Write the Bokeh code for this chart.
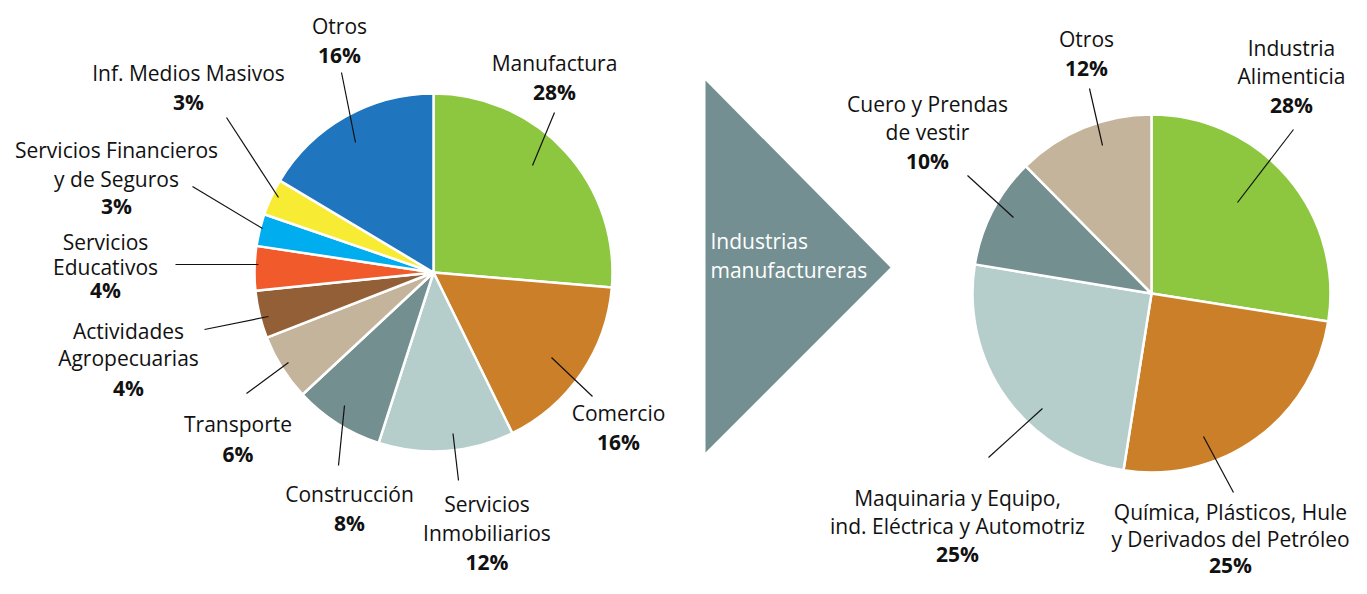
import math
from bokeh.plotting import figure
from bokeh.models import ColumnDataSource, Range1d
from bokeh.core.properties import value
from bokeh.embed import file_html
from bokeh.resources import INLINE

# ---------------- data ----------------
left_categories = ["Manufactura", "Comercio", "Servicios Inmobiliarios", "Construcción",
                   "Transporte", "Actividades Agropecuarias", "Servicios Educativos",
                   "Servicios Financieros y de Seguros", "Inf. Medios Masivos", "Otros"]
left_values = [26.3, 16.4, 12.2, 8.1, 6.0, 4.3, 4.0, 2.9, 3.3, 16.4]
left_pct_labels = ["28%", "16%", "12%", "8%", "6%", "4%", "4%", "3%", "3%", "16%"]
left_label_lines = [["Manufactura"], ["Comercio"], ["Servicios", "Inmobiliarios"],
                    ["Construcción"], ["Transporte"], ["Actividades", "Agropecuarias"],
                    ["Servicios", "Educativos"], ["Servicios Financieros", "y de Seguros"],
                    ["Inf. Medios Masivos"], ["Otros"]]

right_categories = ["Industria Alimenticia",
                    "Química, Plásticos, Hule y Derivados del Petróleo",
                    "Maquinaria y Equipo, ind. Eléctrica y Automotriz",
                    "Cuero y Prendas de vestir", "Otros"]
right_values = [27.5, 25.0, 25.1, 10.0, 12.4]
right_pct_labels = ["28%", "25%", "25%", "10%", "12%"]
right_label_lines = [["Industria", "Alimenticia"],
                     ["Química, Plásticos, Hule", "y Derivados del Petróleo"],
                     ["Maquinaria y Equipo,", "ind. Eléctrica y Automotriz"],
                     ["Cuero y Prendas", "de vestir"], ["Otros"]]

arrow_label = ["Industrias", "manufactureras"]

# ---------------- styles / layout ----------------
left_colors = ["#8DC63F", "#CC7F29", "#B5CDCB", "#738F90", "#C4B49B",
               "#925F37", "#F15A2B", "#00AEEF", "#F7EB33", "#1F75BE"]
right_colors = ["#8DC63F", "#CC7F29", "#B5CDCB", "#738F90", "#C4B49B"]

W, H = 1351, 578
OX, OY = 0, 0
FONT = "Open Sans"
FS = "21px"
TXT = "#111111"


def X(rx):
    return rx - OX


def Y(ry):
    return H - (ry - OY)


# label layout (x centre, y of each text line, y of percentage) in picture pixels
left_label_pos = [
    (554, [62], 91),
    (618, [412], 441.5),
    (486.5, [503, 532], 561),
    (349, [493], 522),
    (237.5, [423.5], 453),
    (128, [330, 357.5], 387),
    (105, [241, 266], 289),
    (116, [149, 178], 205),
    (188, [72], 101),
    (339, [25], 54),
]
left_leaders = [
    ((554, 112), (532, 165)),
    ((551, 357), (592, 396)),
    ((452.5, 433), (458, 480)),
    ((344, 405), (338, 465)),
    ((288, 362), (246, 393)),
    ((268, 316), (204, 329)),
    ((258, 264), (175, 264)),
    ((262, 228), (192, 186)),
    ((278, 197), (226, 117)),
    ((355, 142), (341, 72)),
]
right_label_pos = [
    (1291, [47, 75.5], 104),
    (1230, [511, 538], 564),
    (957, [497, 525], 553),
    (927, [103, 131.5], 160),
    (1086, [38.5], 67.5),
]
right_leaders = [
    ((1237, 202), (1293, 129)),
    ((1203, 436), (1233, 492)),
    ((1042, 408), (988, 457)),
    ((1013, 217), (967, 175)),
    ((1102, 145), (1089, 88)),
]

p = figure(width=W, height=H, x_range=Range1d(0, W), y_range=Range1d(0, H),
           x_axis_location=None, y_axis_location=None, min_border=0,
           toolbar_location=None, output_backend="svg")
p.grid.visible = False
p.outline_line_color = None
p.background_fill_color = "white"
p.border_fill_color = "white"


def pie(cx, cy, r, values, colors, names):
    total = float(sum(values))
    starts, ends = [], []
    acc = 0.0
    for v in values:
        a0 = acc / total * 2 * math.pi
        acc += v
        a1 = acc / total * 2 * math.pi
        starts.append(math.pi / 2 - a0)
        ends.append(math.pi / 2 - a1)
    src = ColumnDataSource(dict(start=starts, end=ends, color=colors, name=names,
                                x=[X(cx)] * len(values), y=[Y(cy)] * len(values)))
    p.wedge(x="x", y="y", radius=r, start_angle="start", end_angle="end",
            direction="clock", fill_color="color", line_color="white",
            line_width=2.5, source=src)


pie(433, 272, 179, left_values, left_colors, left_categories)
pie(1151, 293, 179, right_values, right_colors, right_categories)

# arrow triangle
p.patch(x=[X(705), X(705), X(890)], y=[Y(80), Y(452), Y(267)],
        fill_color="#738F91", line_color=None)
p.text(x=[X(710), X(710)], y=[Y(240), Y(269)], text=arrow_label,
       text_font=value(FONT), text_font_size=FS, text_color="white",
       text_align="left", text_baseline="middle")

# labels
tx, ty, tt = [], [], []
px, py, pt = [], [], []
for lines, pos, pct in list(zip(left_label_lines, left_label_pos, left_pct_labels)) + \
        list(zip(right_label_lines, right_label_pos, right_pct_labels)):
    cx, ys, pyy = pos
    for line, yy in zip(lines, ys):
        tx.append(X(cx)); ty.append(Y(yy)); tt.append(line)
    px.append(X(cx)); py.append(Y(pyy)); pt.append(pct)

p.text(x=tx, y=ty, text=tt, text_font=value(FONT), text_font_size=FS,
       text_color=TXT, text_align="center", text_baseline="middle")
p.text(x=px, y=py, text=pt, text_font=value(FONT), text_font_size=FS,
       text_font_style="bold", text_color=TXT, text_align="center",
       text_baseline="middle")

# leader lines
segs = left_leaders + right_leaders
p.segment(x0=[X(a[0]) for a, b in segs], y0=[Y(a[1]) for a, b in segs],
          x1=[X(b[0]) for a, b in segs], y1=[Y(b[1]) for a, b in segs],
          line_color="#111111", line_width=1.2)

open("out.html", "w").write(file_html(p, INLINE))
